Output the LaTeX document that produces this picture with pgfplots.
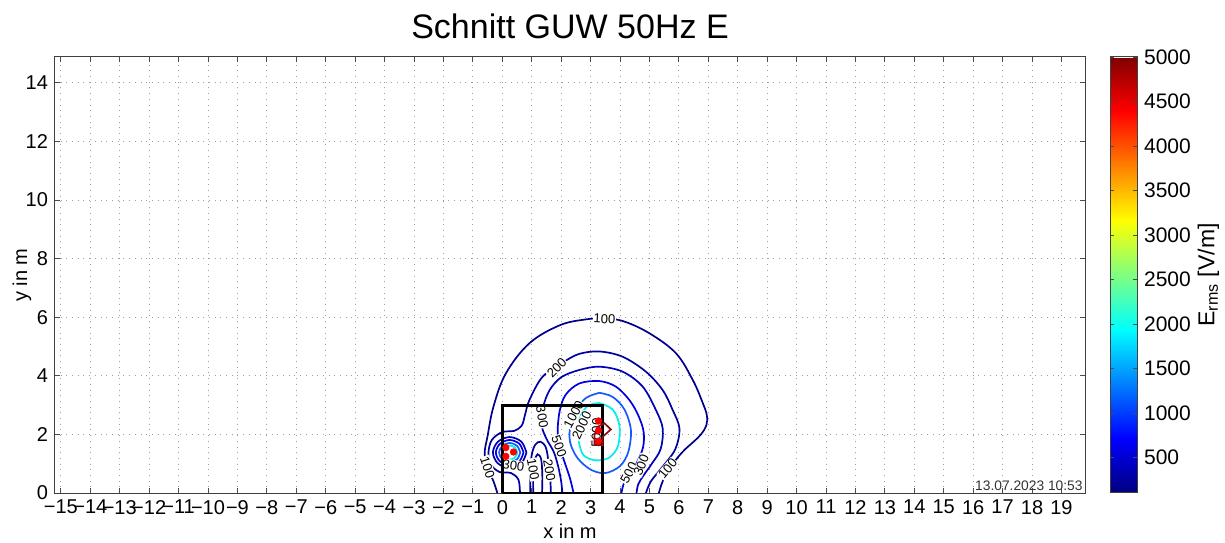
\documentclass[border=0pt]{standalone}
\usepackage{pgfplots}
\pgfplotsset{compat=1.18}
\usepackage{fontspec}
\setmainfont{Liberation Sans}
\definecolor{c100}{rgb}{0,0,0.55}
\definecolor{c200}{rgb}{0,0,0.62}
\definecolor{c300}{rgb}{0,0,0.72}
\definecolor{c500}{rgb}{0,0,0.88}
\definecolor{c1000}{rgb}{0.08,0.35,1}
\definecolor{c2000}{rgb}{0,0.93,0.93}
\definecolor{c5000}{rgb}{0.55,0.05,0.05}
\begin{document}
\begin{tikzpicture}
\useasboundingbox (-27.5pt,-24.5pt) rectangle (585pt,246.5pt);
\begin{axis}[
  at={(0,0)}, anchor=south west,
  scale only axis, width=515pt, height=218pt,
  xmin=-15.2, xmax=19.8, ymin=0, ymax=14.88,
  xtick={-15,-14,...,19},
  xticklabels={−15,−14,−13,−12,−11,−10,−9,−8,−7,−6,−5,−4,−3,−2,−1,0,1,2,3,4,5,6,7,8,9,10,11,12,13,14,15,16,17,18,19},
  ytick={0,2,...,14},
  grid=major,
  major grid style={gray!75, line width=0.45pt, dash pattern=on 0.45pt off 2.4pt},
  tick align=inside,
  major tick length=2.5pt,
  tick style={black!70, line width=0.4pt},
  axis line style={black!75, line width=0.5pt},
  ticklabel style={font=\fontsize{10}{12}\selectfont},
  /pgf/number format/assume math mode=true,
  xlabel={x in m}, ylabel={y in m},
  label style={font=\fontsize{10}{12}\selectfont},
  xlabel style={yshift=2pt},
  ylabel style={at={(rel axis cs:-0.032,0.5)}, anchor=center},
  title={Schnitt GUW 50Hz E},
  title style={font=\fontsize{17}{20}\selectfont, yshift=-0.5pt},
  colorbar,
  colormap/jet,
  point meta min=100, point meta max=5000,
  colorbar style={
    at={(parent axis.north east)}, anchor=north west, xshift=4pt,
    width=13.5pt,
    ytick={500,1000,1500,2000,2500,3000,3500,4000,4500,5000},
    yticklabels={500,1000,1500,2000,2500,3000,3500,4000,4500,5000},
    yticklabel style={font=\fontsize{10.5}{12}\selectfont},
    ylabel={E\textsubscript{rms} [V/m]},
    ylabel style={font=\fontsize{11.5}{13}\selectfont},
    ylabel shift=-3.5pt,
    major tick length=2pt,
    axis line style={black!75, line width=0.5pt},
  },
  clip=true,
]
% outer 100 contour
\addplot[c100, line width=0.85pt, smooth, tension=0.6] coordinates {
(-0.17,0) (-0.3,0.4) (-0.5,0.85) (-0.6,1.35) (-0.5,1.95) (-0.3,2.95) (0.12,4.08) (0.92,5.11) (1.94,5.72) (2.8,5.92) (3.5,5.96) (4.15,5.85) (5.0,5.45) (5.9,4.77) (6.47,3.86) (6.8,3.1) (6.95,2.65) (6.93,2.3) (6.75,2.0) (6.5,1.75) (6.22,1.5) (5.95,1.2) (5.7,0.85) (5.45,0.4) (5.32,0)};
% 200 contour
\addplot[c200, line width=0.85pt, smooth, tension=0.55] coordinates {
(0.6,0) (0.55,0.45) (0.3,0.68) (-0.1,0.72) (-0.4,0.98) (-0.47,1.4) (-0.35,1.82) (0.0,2.08) (0.4,2.12) (0.66,2.3) (0.78,2.7) (0.92,3.17) (1.37,3.97) (2.1,4.48) (2.62,4.75) (3.3,4.83) (4.09,4.65) (4.88,4.14) (5.45,3.51) (5.79,2.83) (6.02,2.2) (5.88,1.5) (5.45,0.9) (5.05,0.4) (4.88,0)};
% 300 contour
\addplot[c300, line width=0.85pt, smooth, tension=0.55] coordinates {
(2.04,0) (2.0,0.4) (1.9,0.9) (1.75,1.4) (1.5,1.85) (1.34,2.3) (1.38,2.9) (1.6,3.5) (2.0,3.95) (2.62,4.2) (3.3,4.31) (4.09,4.14) (4.77,3.63) (5.22,2.83) (5.45,2.2) (5.38,1.5) (5.08,1.0) (4.8,0.6) (4.62,0.3) (4.56,0)};
% 500 contour
\addplot[c500, line width=0.85pt, smooth, tension=0.55] coordinates {
(2.42,0) (2.3,0.5) (2.1,1.1) (1.95,1.58) (1.88,2.1) (1.95,2.8) (2.15,3.35) (2.62,3.74) (3.3,3.82) (3.86,3.63) (4.32,3.17) (4.62,2.65) (4.8,2.1) (4.78,1.55) (4.55,1.0) (4.3,0.65) (4.12,0.3) (4.05,0)};
% 1000 contour
\addplot[c1000, line width=0.85pt, smooth, tension=0.55] coordinates {
(3.3,3.42) (3.75,3.28) (4.15,2.85) (4.37,2.15) (4.28,1.4) (4.0,0.92) (3.5,0.68) (3.0,0.8) (2.55,1.2) (2.3,1.75) (2.32,2.35) (2.52,2.85) (2.85,3.25) (3.3,3.42)};
% 2000 contour
\addplot[c2000, line width=0.85pt, smooth, tension=0.55] coordinates {
(3.3,3.07) (3.75,2.85) (3.98,2.3) (3.93,1.6) (3.65,1.22) (3.3,1.12) (3.0,1.15) (2.72,1.35) (2.58,1.9) (2.63,2.55) (2.9,2.97) (3.3,3.07)};
% trough contours between sources
\addplot[c200, line width=0.85pt, smooth, tension=0.55] coordinates {
(0.95,0) (0.95,0.7) (1.0,1.3) (1.12,1.65) (1.3,1.75) (1.48,1.55) (1.58,1.0) (1.63,0.5) (1.65,0)};
\addplot[c100, line width=0.85pt, smooth, tension=0.55] coordinates {
(1.05,0) (1.05,0.6) (1.1,1.1) (1.2,1.32) (1.32,1.15) (1.36,0.6) (1.35,0)};
% rings around left source
\addplot[c300, line width=0.85pt, smooth, tension=0.55] coordinates {
(0.82,1.38) (0.65,1.75) (0.25,1.91) (-0.15,1.75) (-0.32,1.38) (-0.15,1.01) (0.25,0.85) (0.65,1.01) (0.82,1.38)};
\addplot[c500, line width=0.85pt, smooth, tension=0.55] coordinates {
(0.72,1.38) (0.58,1.68) (0.25,1.81) (-0.08,1.68) (-0.22,1.38) (-0.08,1.08) (0.25,0.95) (0.58,1.08) (0.72,1.38)};
\addplot[c1000, line width=0.85pt, smooth, tension=0.55] coordinates {
(0.61,1.38) (0.5,1.61) (0.25,1.71) (0.0,1.61) (-0.11,1.38) (0.0,1.15) (0.25,1.05) (0.5,1.15) (0.61,1.38)};
\addplot[c2000, line width=0.85pt, smooth, tension=0.55] coordinates {
(0.51,1.38) (0.43,1.55) (0.25,1.62) (0.07,1.55) (-0.01,1.38) (0.07,1.21) (0.25,1.14) (0.43,1.21) (0.51,1.38)};
% contour labels
\begin{scope}[every node/.style={font=\fontsize{6.5}{6.5}\selectfont, fill=white, inner sep=0.3pt}]
\node[rotate=-3] at (axis cs:3.47,5.94) {100};
\node[rotate=45] at (axis cs:1.85,4.27) {200};
\node[rotate=-80] at (axis cs:1.35,2.6) {300};
\node[rotate=-70] at (axis cs:1.93,1.6) {500};
\node[rotate=62] at (axis cs:2.43,2.68) {1000};
\node[rotate=65] at (axis cs:2.7,2.3) {2000};
\node[rotate=88] at (axis cs:3.2,2.05) {5000};
\node[rotate=62] at (axis cs:4.3,0.68) {500};
\node[rotate=68] at (axis cs:4.72,0.95) {300};
\node[rotate=50] at (axis cs:5.62,0.83) {100};
\node[rotate=-72] at (axis cs:-0.5,0.88) {100};
\node[rotate=-80] at (axis cs:1.05,0.8) {100};
\node[rotate=-80] at (axis cs:1.6,0.78) {200};
\node[rotate=-8] at (axis cs:0.38,0.95) {300};
\end{scope}
% building outline
\addplot[black, line width=1.5pt] coordinates {(0,0) (0,3) (3.4,3) (3.4,0) (0,0)};
% 5000 contour
\addplot[c5000, line width=0.85pt] coordinates {
(3.13,1.98) (3.13,1.64) (3.41,1.64) (3.41,1.92) (3.69,2.17) (3.47,2.38) (3.24,2.26) (3.13,1.98)};
% conductors
\addplot[only marks, mark=*, mark size=1.6pt, color=red, mark options={draw=red, fill=red}] coordinates {
(0.12,1.55) (0.12,1.25) (0.38,1.4) (3.27,2.46) (3.27,2.13) (3.27,1.77)};
\node[anchor=south east, font=\fontsize{6.9}{7}\selectfont, inner sep=1pt, text=black!80] at (rel axis cs:1,0) {13.07.2023 10:53};
\end{axis}
\end{tikzpicture}
\end{document}
